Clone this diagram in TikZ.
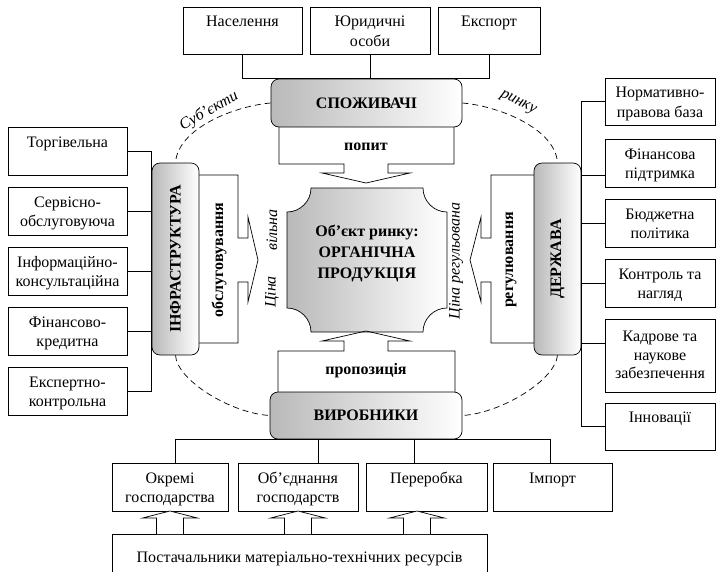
\documentclass[tikz,border=0pt]{standalone}
\usepackage{fontspec}
\setmainfont{Liberation Serif}
\newcommand\topln{\rule{0pt}{18pt}}
\begin{document}
\begin{tikzpicture}[x=1pt,y=-1pt,line width=0.7pt,
  every node/.style={font=\fontsize{16}{19.5}\selectfont},
  box/.style={draw, fill=white, align=center, inner sep=0pt, minimum height=47pt},
  hub/.style={draw, rounded corners=8pt, left color=gray!55, right color=white, inner sep=0pt, font=\fontsize{16}{19.5}\selectfont\bfseries},
  lbl/.style={inner sep=0pt, font=\fontsize{16}{19.5}\selectfont\bfseries},
  note/.style={inner sep=0pt, font=\fontsize{16}{19.5}\selectfont\itshape},
  subj/.style={dash pattern=on 6pt off 4pt}
]
\useasboundingbox (0,0) rectangle (717,571);

% ---------- top: consumers ----------
\node[box, minimum width=119pt] (nas) at (242.5,30.5) {\topln Населення\\\strut};
\node[box, minimum width=120pt] (jur) at (370,30.5) {\topln Юридичні\\особи\strut};
\node[box, minimum width=102pt] (exp) at (489,30.5) {\topln Експорт\\\strut};

\draw (279,127) -- (279,164) -- (344,164) -- (344,173) -- (322,173) -- (366,183)
      -- (410,173) -- (388,173) -- (388,164) -- (454,164) -- (454,127);
\node[lbl] (pop) at (366,147) {попит};

\node[hub, minimum width=191pt, minimum height=48pt] (spo) at (366.5,103) {СПОЖИВАЧІ};
\draw (nas.south) |- (spo.north) -| (exp.south);
\draw (jur.south) -- (spo.north -| jur.south);

% ---------- centre ----------
\path[draw, left color=gray!55, right color=white]
  (311,188) -- (423,188) .. controls (423,201.2) and (433.8,212) .. (447,212)
  -- (447,308) .. controls (433.8,308) and (423,318.8) .. (423,332)
  -- (311,332) .. controls (311,318.8) and (300.2,308) .. (287,308)
  -- (287,212) .. controls (300.2,212) and (311,201.2) .. (311,188) -- cycle;
\node[lbl, align=center, font=\fontsize{16}{21}\selectfont\bfseries] (obj) at (367,253)
  {Об’єкт ринку:\\ОРГАНІЧНА\\ПРОДУКЦІЯ};

\node[note, rotate=90] (cv1) at (272,292) {Ціна};
\node[note, rotate=90] (cv2) at (272,230) {вільна};
\node[note, rotate=90] (creg) at (456,261) {Ціна регульована};

% ---------- left: infrastructure ----------
\node[box, minimum width=119pt, minimum height=48pt] (torg) at (67.5,151) {\topln Торгівельна\\\strut};
\node[box, minimum width=119pt, minimum height=48pt] (serv) at (67.5,211) {\topln Сервісно-\\обслуговуюча\strut};
\node[box, minimum width=119pt, minimum height=48pt] (info) at (67.5,271) {\topln Інформаційно-\\консультаційна\strut};
\node[box, minimum width=119pt, minimum height=48pt] (finc) at (67.5,331) {\topln Фінансово-\\кредитна\strut};
\node[box, minimum width=119pt, minimum height=48pt] (expc) at (67.5,391) {\topln Експертно-\\контрольна\strut};

\draw (199,175) -- (238,175) -- (238,238) -- (248,238) -- (248,217) -- (258,260)
      -- (248,302) -- (248,282) -- (238,282) -- (238,343) -- (199,343);
\node[lbl] (obsl) at (219,260) {\rotatebox{90}{обслуговування}};

\node[hub, minimum width=47pt, minimum height=192pt] (infra) at (175.5,259) {\rotatebox{90}{ІНФРАСТРУКТУРА}};
\foreach \b in {torg,serv,info,finc,expc} \draw (\b.east) -- (\b.east -| infra.west);
\draw (torg.east -| infra.west) -- (expc.east -| infra.west);

% ---------- right: state ----------
\node[box, minimum width=110pt] (norm) at (660,101.5) {\topln Нормативно-\\правова база\strut};
\node[box, minimum width=110pt, minimum height=48pt] (finp) at (660,163) {\topln Фінансова\\підтримка\strut};
\node[box, minimum width=110pt, minimum height=48pt] (budg) at (660,223) {\topln Бюджетна\\політика\strut};
\node[box, minimum width=110pt, minimum height=48pt] (kontr) at (660,283) {\topln Контроль та\\нагляд\strut};
\node[box, minimum width=110pt, minimum height=73pt, font=\fontsize{16}{18.5}\selectfont] (kadr) at (660,355.5) {\rule{0pt}{15pt}Кадрове та\\наукове\\забезпечення\strut};
\node[box, minimum width=110pt] (innov) at (660,426.5) {\topln Інновації\\\strut};

\draw (534,175) -- (491,175) -- (491,238) -- (481,238) -- (481,217) -- (470,260)
      -- (481,302) -- (481,282) -- (491,282) -- (491,343) -- (534,343);
\node[lbl] (reg) at (511,260) {\rotatebox{90}{регулювання}};

\node[hub, minimum width=47pt, minimum height=192pt] (derz) at (557.5,259) {\rotatebox{90}{ДЕРЖАВА}};
\coordinate (rt) at (582,175);
\coordinate (rb) at (582,343);
\draw (derz.east |- norm.west) -- (derz.east |- innov.west);
\draw (norm.west) -- (norm.west -| derz.east);
\draw (finp.west |- rt) -- (rt);
\draw (budg.west) -- (budg.west -| derz.east);
\draw (kontr.west) -- (kontr.west -| derz.east);
\draw (kadr.west |- rb) -- (rb);
\draw (innov.west) -- (innov.west -| derz.east);

% ---------- bottom: producers ----------
\draw (278,392) -- (278,351) -- (344,351) -- (344,341) -- (322,341) -- (366,331)
      -- (410,341) -- (388,341) -- (388,351) -- (455,351) -- (455,392);
\node[lbl] (prop) at (366,371) {пропозиція};

\node[hub, minimum width=192pt, minimum height=47pt] (vyr) at (366,415.5) {ВИРОБНИКИ};

\node[box, minimum width=116pt, minimum height=48pt] (okr) at (170,487) {\topln Окремі\\господарства\strut};
\node[box, minimum width=120pt, minimum height=48pt] (obed) at (298,487) {\topln Об’єднання\\господарств\strut};
\node[box, minimum width=121pt, minimum height=48pt] (pere) at (426.5,487) {\topln Переробка\\\strut};
\node[box, minimum width=119pt, minimum height=48pt] (imp) at (552.5,487) {\topln Імпорт\\\strut};

\coordinate (d1) at (175,439);
\coordinate (d2) at (318,439);
\coordinate (d3) at (414,439);
\coordinate (d4) at (550,439);
\draw (d1) -- (d4);
\draw (d1) -- (d1 |- okr.north);
\draw (d2) -- (d2 |- obed.north);
\draw (d3) -- (d3 |- pere.north);
\draw (d4) -- (d4 |- imp.north);

\node[box, minimum width=375pt, minimum height=50pt] (post) at (299.5,559) {Постачальники матеріально-технічних ресурсів};

\foreach \c in {170,298,417} {
  \draw[fill=white] (\c-13.5,534) -- (\c-13.5,518) -- (\c-27.5,518) -- (\c,511)
     -- (\c+27.5,518) -- (\c+13.5,518) -- (\c+13.5,534);
}

% ---------- dashed "subjects of market" ring ----------
\draw[subj] (spo.west) .. controls (235,106) and (178,128) .. (infra.north);
\draw[subj] (spo.east) .. controls (498,106) and (555,128) .. (derz.north);
\draw[subj] (infra.south) .. controls (177,380) and (230,413) .. (vyr.west);
\draw[subj] (derz.south) .. controls (555,380) and (502,413) .. (vyr.east);

\node[note, rotate=30] (subl) at (209,111) {Суб’єкти};
\node[note, rotate=-27] (rynl) at (518,103) {ринку};

\end{tikzpicture}
\end{document}
